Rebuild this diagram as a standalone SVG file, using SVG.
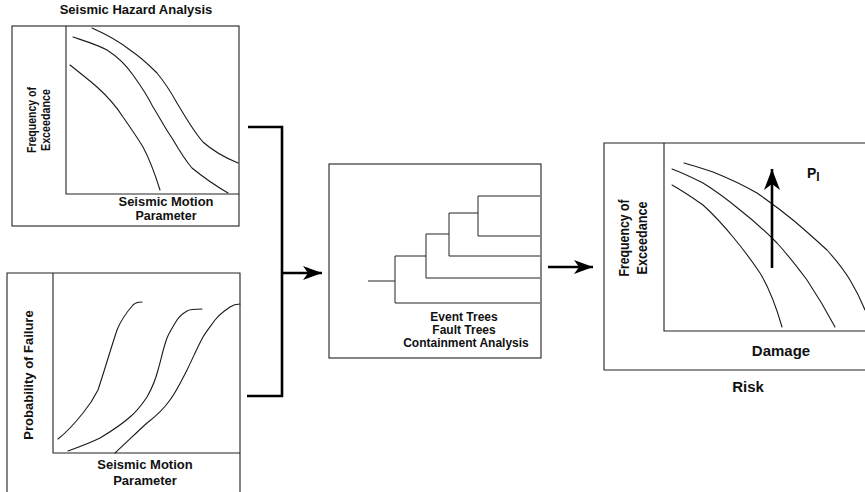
<svg xmlns="http://www.w3.org/2000/svg" width="865" height="492" viewBox="0 0 865 492">
<style>
.box{fill:none;stroke:#222;stroke-width:1.1}
.crv{fill:none;stroke:#1a1a1a;stroke-width:1.1;stroke-linejoin:round;stroke-linecap:round}
.tree{fill:none;stroke:#222;stroke-width:1}
.lbl{font-family:"Liberation Sans",Arial,sans-serif;font-weight:bold;fill:#111}
.conn{fill:none;stroke:#000;stroke-width:2.6}
</style>
<defs>
<marker id="ah" markerUnits="userSpaceOnUse" markerWidth="20" markerHeight="14" refX="19" refY="7" orient="auto">
<path d="M0,0 L19,7 L0,14 L5,7 z" fill="#000"/>
</marker>
<marker id="ahup" markerUnits="userSpaceOnUse" markerWidth="22" markerHeight="16" refX="21" refY="8" orient="auto">
<path d="M0,0 L21,8 L0,16 L6,8 z" fill="#000"/>
</marker>
</defs>
<rect width="865" height="492" fill="#fff"/>

<g id="hazard">
<text class="lbl" x="136" y="14" font-size="13" text-anchor="middle">Seismic Hazard Analysis</text>
<rect class="box" x="12" y="26" width="227" height="200"/>
<path class="box" d="M66,26 V194 H239"/>
<path class="crv" d="M92,28 C110,36 120,42 130,50 C142,58 150,66 157,73 C166,84 172,94 177,103 C186,118 194,132 203,142 C214,152 226,158 238,163"/>
<path class="crv" d="M73,37 C88,42 98,45 107,50 C118,57 126,65 133,75 C141,86 148,97 153,107 C160,118 166,130 172,138 C179,150 185,160 192,168 C203,177 216,186 228,193"/>
<path class="crv" d="M70,65 C80,73 89,80 97,87 C107,96 116,106 123,117 C130,127 137,137 143,147 C150,160 155,174 160,190"/>
<text class="lbl" font-size="13.5" transform="translate(36,120) rotate(-90)" text-anchor="middle" textLength="66" lengthAdjust="spacingAndGlyphs">Frequency of</text>
<text class="lbl" font-size="13.5" transform="translate(50,120) rotate(-90)" text-anchor="middle" textLength="62" lengthAdjust="spacingAndGlyphs">Exceedance</text>
<text class="lbl" font-size="12.5" x="166" y="206" text-anchor="middle" textLength="95" lengthAdjust="spacingAndGlyphs">Seismic Motion</text>
<text class="lbl" font-size="12.5" x="166" y="220" text-anchor="middle">Parameter</text>
</g>

<g id="fragility">
<path class="box" d="M7,492 V273 H240 V492"/>
<path class="box" d="M53,273 V453 H240"/>
<path class="crv" d="M142,302 C138,302 135,303 133,305 C126,313 121,320 117,330 C111,348 104,372 98,390 C93,400 88,407 83,413 C75,423 67,432 58,439"/>
<path class="crv" d="M202,309 C195,309 190,309 187,311 C182,314 179,317 177,320 C172,328 169,333 167,338 C163,349 161,360 158,370 C155,382 151,390 147,397 C141,406 136,412 130,417 C120,426 110,432 100,438 C90,443 79,447 68,451"/>
<path class="crv" d="M240,304 C236,304 233,305 230,307 C224,311 219,315 215,320 C210,327 206,332 203,337 C197,348 192,360 187,370 C181,382 176,392 170,400 C163,410 155,417 147,423 C137,432 126,443 115,453"/>
<text class="lbl" font-size="13" transform="translate(33,375) rotate(-90)" text-anchor="middle">Probability of Failure</text>
<text class="lbl" font-size="13" x="145" y="469" text-anchor="middle">Seismic Motion</text>
<text class="lbl" font-size="13" x="145" y="485" text-anchor="middle">Parameter</text>
</g>

<g id="systems">
<rect class="box" x="329" y="164" width="212" height="194"/>
<path class="tree" d="M368,281 H395 M395,256 V303 M395,303 H540 M395,256 H426 M426,234 V278 M426,278 H540 M426,234 H449 M449,213 V256 M449,256 H540 M449,213 H478 M478,196 V236 M478,196 H540 M478,236 H540"/>
<text class="lbl" font-size="12" x="464" y="321" text-anchor="middle">Event Trees</text>
<text class="lbl" font-size="12" x="464" y="334" text-anchor="middle">Fault Trees</text>
<text class="lbl" font-size="12" x="466" y="347" text-anchor="middle">Containment Analysis</text>
</g>

<g id="risk">
<path class="box" d="M866,143 H604 V370 H866"/>
<path class="box" d="M664,143 V331 H866"/>
<path class="crv" d="M684,163 C695,166 704,169 713,172 C728,178 743,185 757,193 C770,202 782,211 793,220 C805,230 816,240 827,250 C836,260 844,270 850,280 C856,290 861,300 865,310"/>
<path class="crv" d="M672,169 C683,173 693,178 703,183 C716,191 728,200 740,210 C753,220 766,232 777,243 C788,255 798,268 807,280 C817,295 826,310 835,327"/>
<path class="crv" d="M672,185 C683,191 693,198 703,205 C714,215 724,226 733,237 C743,249 752,261 760,273 C769,288 776,306 782,327"/>
<line class="conn" x1="772" y1="268" x2="772" y2="169" stroke-width="2" marker-end="url(#ahup)"/>
<text class="lbl" font-size="14" x="807" y="178">P<tspan font-size="12" dy="3">I</tspan></text>
<text class="lbl" font-size="14" transform="translate(629,238) rotate(-90)" text-anchor="middle" textLength="77" lengthAdjust="spacingAndGlyphs">Frequency of</text>
<text class="lbl" font-size="14" transform="translate(647,238) rotate(-90)" text-anchor="middle" textLength="73" lengthAdjust="spacingAndGlyphs">Exceedance</text>
<text class="lbl" font-size="15" x="781" y="356" text-anchor="middle">Damage</text>
<text class="lbl" font-size="15" x="748" y="392" text-anchor="middle">Risk</text>
</g>

<g id="connectors">
<path class="conn" d="M248,127 H282 V396 H247"/>
<line class="conn" x1="282" y1="273" x2="322" y2="273" marker-end="url(#ah)"/>
<line class="conn" x1="548" y1="267" x2="593" y2="267" marker-end="url(#ah)"/>
</g>
</svg>
